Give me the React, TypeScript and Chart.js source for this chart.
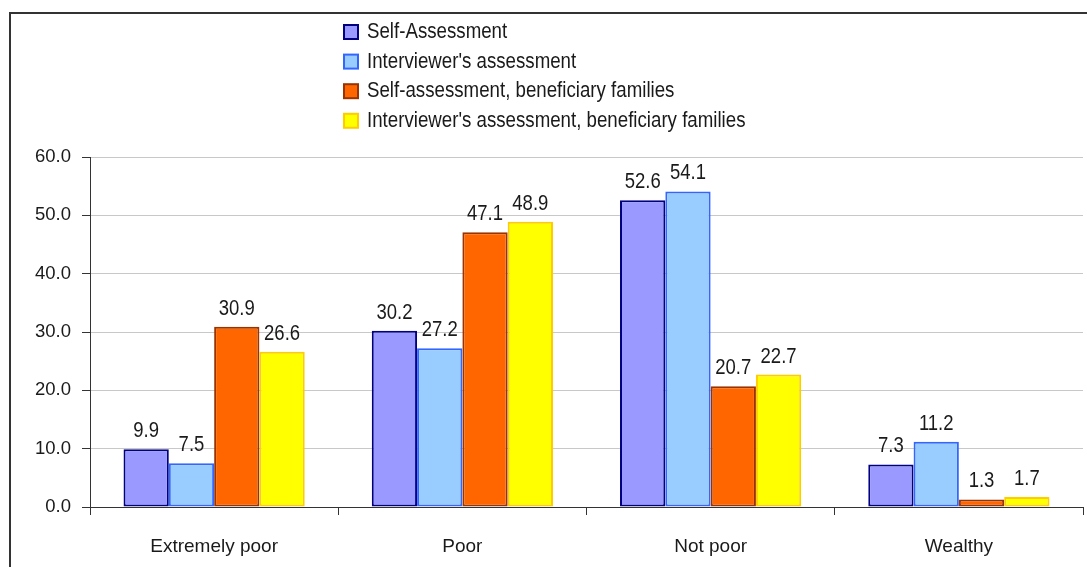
import { useEffect, useRef } from 'react';
import { Chart, registerables } from 'chart.js';

Chart.register(...registerables);

const categories = ['Extremely poor', 'Poor', 'Not poor', 'Wealthy'];
const seriesNames = [
  'Self-Assessment',
  "Interviewer's assessment",
  'Self-assessment, beneficiary families',
  "Interviewer's assessment, beneficiary families",
];
const selfAssessment = [9.9, 30.2, 52.6, 7.3];
const interviewerAssessment = [7.5, 27.2, 54.1, 11.2];
const selfBeneficiary = [30.9, 47.1, 20.7, 1.3];
const interviewerBeneficiary = [26.6, 48.9, 22.7, 1.7];
const yMin = 0;
const yMax = 60;
const yStep = 10;

const fillColors = ['#9999FF', '#99CCFF', '#FF6600', '#FFFF00'];
const borderColors = ['#000080', '#3366FF', '#993300', '#FFCC00'];

const FONT = '"Liberation Sans", Arial, Helvetica, sans-serif';
const TEXT = '#1a1a1a';

function tallText(ctx: CanvasRenderingContext2D, text: string, x: number, y: number, sy: number) {
  ctx.save();
  ctx.translate(x, y);
  ctx.scale(1, sy);
  ctx.fillText(text, 0, 0);
  ctx.restore();
}

const framePlugin = {
  id: 'frame',
  beforeDraw(chart: any) {
    const ctx = chart.ctx;
    ctx.save();
    ctx.fillStyle = '#ffffff';
    ctx.fillRect(0, 0, chart.width, chart.height);
    ctx.strokeStyle = '#333333';
    ctx.lineWidth = 2;
    ctx.beginPath();
    ctx.moveTo(10, chart.height);
    ctx.lineTo(10, 13);
    ctx.lineTo(chart.width, 13);
    ctx.stroke();
    ctx.restore();
  },
};

const labelPlugin = {
  id: 'barLabels',
  afterDatasetsDraw(chart: any) {
    const ctx = chart.ctx;
    ctx.save();
    ctx.font = `18.5px ${FONT}`;
    ctx.fillStyle = TEXT;
    ctx.textAlign = 'center';
    ctx.textBaseline = 'alphabetic';
    chart.data.datasets.forEach((ds: any, di: number) => {
      const meta = chart.getDatasetMeta(di);
      meta.data.forEach((bar: any, i: number) => {
        const v = ds.data[i] as number;
        tallText(ctx, v.toFixed(1), bar.x, bar.y - 12, 1.2);
      });
    });
    ctx.restore();
  },
};

const legendPlugin = {
  id: 'customLegend',
  afterDraw(chart: any) {
    const ctx = chart.ctx;
    ctx.save();
    ctx.font = `18.7px ${FONT}`;
    ctx.textBaseline = 'middle';
    ctx.textAlign = 'left';
    chart.data.datasets.forEach((ds: any, i: number) => {
      const cy = 32 + i * 29.6;
      ctx.fillStyle = ds.backgroundColor;
      ctx.fillRect(344, cy - 7, 14, 14);
      ctx.strokeStyle = ds.borderColor;
      ctx.lineWidth = 2;
      ctx.strokeRect(344, cy - 7, 14, 14);
      ctx.fillStyle = TEXT;
      tallText(ctx, ds.label, 367, cy, 1.18);
    });
    ctx.restore();
  },
};

export default function App() {
  const ref = useRef<HTMLCanvasElement | null>(null);

  useEffect(() => {
    document.body.style.margin = '0';
    const canvas = ref.current;
    if (!canvas) return;
    const seriesData = [selfAssessment, interviewerAssessment, selfBeneficiary, interviewerBeneficiary];
    const chart = new Chart(canvas, {
      type: 'bar',
      data: {
        labels: categories,
        datasets: seriesData.map((d, i) => ({
          label: seriesNames[i],
          data: d,
          backgroundColor: fillColors[i],
          borderColor: borderColors[i],
          borderWidth: 2,
          borderSkipped: false,
          categoryPercentage: 0.73,
          barPercentage: 1.0,
        })),
      },
      options: {
        responsive: false,
        animation: false,
        devicePixelRatio: 1,
        layout: { padding: { top: 157, right: 4, bottom: 0, left: 0 } },
        plugins: {
          legend: { display: false },
          tooltip: { enabled: false },
        },
        scales: {
          x: {
            grid: {
              offset: true,
              drawOnChartArea: false,
              drawTicks: true,
              tickLength: 8,
              color: '#333333',
              lineWidth: 1,
            },
            border: { color: '#333333', width: 1 },
            ticks: {
              color: TEXT,
              font: { family: FONT, size: 19 },
              padding: 20,
              maxRotation: 0,
            },
            afterFit(scale: any) {
              scale.height = 60;
            },
          },
          y: {
            min: yMin,
            max: yMax,
            grid: {
              color: '#c8c8c8',
              tickColor: '#333333',
              tickLength: 8,
              lineWidth: 1,
            },
            border: { color: '#333333', width: 1 },
            ticks: {
              stepSize: yStep,
              color: TEXT,
              font: { family: FONT, size: 18.5 },
              padding: 11,
              callback: (v: any) => Number(v).toFixed(1),
            },
            afterFit(scale: any) {
              scale.width = 90;
            },
          },
        },
      },
      plugins: [framePlugin, labelPlugin, legendPlugin],
    });
    return () => chart.destroy();
  }, []);

  return (
    <div style={{ position: 'absolute', left: 0, top: 0, width: 1087, height: 567 }}>
      <canvas ref={ref} width={1087} height={567} />
    </div>
  );
}
